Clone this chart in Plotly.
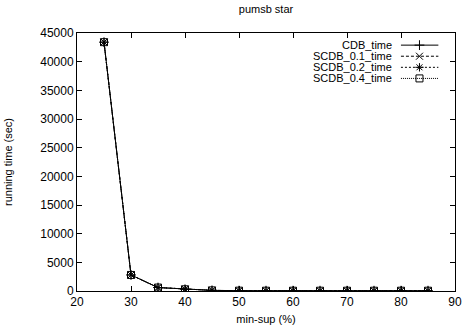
import plotly.graph_objects as go

# Minimum support thresholds (%) and running times (sec)
min_sup = [25, 30, 35, 40, 45, 50, 55, 60, 65, 70, 75, 80, 85]
cdb_time = [43400, 2800, 600, 300, 110, 60, 50, 50, 50, 50, 50, 50, 50]
scdb_01_time = [43400, 2800, 600, 300, 110, 60, 50, 50, 50, 50, 50, 50, 50]
scdb_02_time = [43400, 2800, 600, 300, 110, 60, 50, 50, 50, 50, 50, 50, 50]
scdb_04_time = [43400, 2800, 600, 300, 110, 60, 50, 50, 50, 50, 50, 50, 50]

series_names = ["CDB_time", "SCDB_0.1_time", "SCDB_0.2_time", "SCDB_0.4_time"]
series_values = [cdb_time, scdb_01_time, scdb_02_time, scdb_04_time]
dashes = ["solid", "3px,2px", "2px,2px", "1px,1px"]
symbols = ["cross-thin-open", "x-thin-open", "asterisk-open", "square-open"]

x_ticks = [20, 30, 40, 50, 60, 70, 80, 90]
y_ticks = list(range(0, 45001, 5000))

FONT = "Liberation Sans, Arial, sans-serif"

fig = go.Figure()
for name, vals, dash, sym in zip(series_names, series_values, dashes, symbols):
    fig.add_trace(go.Scatter(
        x=min_sup, y=vals, name=name, mode="lines+markers",
        line=dict(color="black", width=1, dash=dash),
        marker=dict(symbol=sym, size=7, color="black",
                    line=dict(color="black", width=1)),
        showlegend=False,
    ))

# Key in the top-right corner: label, then a line sample with its point symbol
row_y = [0.953, 0.910, 0.867, 0.824]
for name, dash, sym, yy in zip(series_names, dashes, symbols, row_y):
    fig.add_annotation(x=0.839, y=yy, xref="paper", yref="paper", text=name,
                       showarrow=False, xanchor="right", yanchor="middle",
                       font=dict(family=FONT, size=11, color="black"))
    fig.add_shape(type="line", xref="paper", yref="paper",
                  x0=0.857, x1=0.956, y0=yy, y1=yy,
                  line=dict(color="black", width=1, dash=dash))
    fig.add_trace(go.Scatter(
        x=[0.906], y=[yy], xaxis="x2", yaxis="y2", mode="markers",
        marker=dict(symbol=sym, size=7, color="black",
                    line=dict(color="black", width=1)),
        showlegend=False, hoverinfo="skip",
    ))

axis_common = dict(
    showline=True, linecolor="black", linewidth=1, mirror="ticks",
    ticks="inside", ticklen=5, tickcolor="black", tickwidth=1,
    showgrid=False, zeroline=False,
    tickfont=dict(family=FONT, size=12, color="black"),
)

fig.update_layout(
    width=469, height=335,
    margin=dict(l=77, r=7, t=33, b=44),
    paper_bgcolor="white", plot_bgcolor="white",
    title=dict(text="pumsb star", x=0.5, xref="paper", y=0.972, yanchor="middle",
               font=dict(family=FONT, size=11, color="black")),
    xaxis=dict(range=[20, 90], tickvals=x_ticks,
               ticktext=[str(v) for v in x_ticks],
               title=dict(text="min-sup (%)", standoff=6,
                          font=dict(family=FONT, size=11, color="black")),
               **axis_common),
    yaxis=dict(range=[0, 45000], tickvals=y_ticks,
               ticktext=[str(v) for v in y_ticks],
               title=dict(text="running time (sec)", standoff=25,
                          font=dict(family=FONT, size=11, color="black")),
               **axis_common),
    xaxis2=dict(overlaying="x", range=[0, 1], visible=False),
    yaxis2=dict(overlaying="y", range=[0, 1], visible=False),
)

fig.write_html("out.html")
